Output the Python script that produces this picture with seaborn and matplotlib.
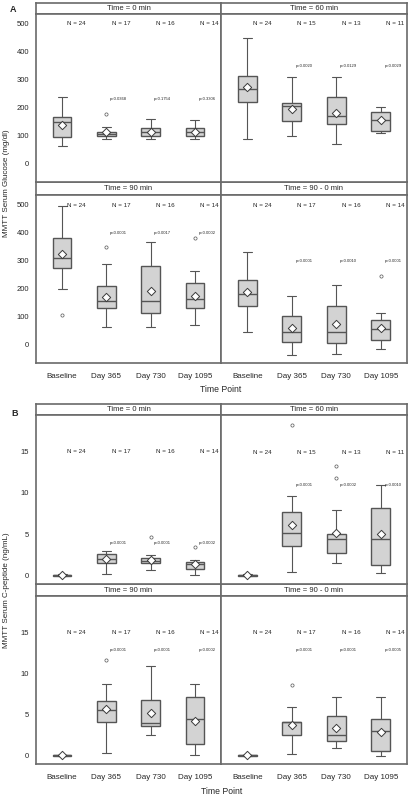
import numpy as np
import pandas as pd
import matplotlib
matplotlib.use("Agg")
import matplotlib.pyplot as plt
import seaborn as sns

sns.set_style("white")
plt.rcParams['font.family'] = ['Liberation Sans', 'DejaVu Sans']

W, H = 414, 798
categories = ['Baseline', 'Day 365', 'Day 730', 'Day 1095']

# box stats per facet: [whisker low, q1, median, q3, whisker high]
glu_0_box = [[62, 94, 149, 167, 240], [88, 101, 108, 115, 130], [90, 101, 115, 128, 160], [88, 101, 114, 128, 155]]
glu_0_mean = [137, 113, 115, 114]
glu_0_out = [[], [178], [], []]
glu_0_n = [24, 17, 16, 14]
glu_0_p = ['', 'p=0.0368', 'p=0.1754', 'p=0.3306']

glu_60_box = [[89, 219, 267, 315, 449], [101, 154, 205, 218, 311], [70, 142, 169, 240, 310], [110, 117, 157, 186, 202]]
glu_60_mean = [273, 195, 183, 157]
glu_60_out = [[], [], [], []]
glu_60_n = [24, 15, 13, 11]
glu_60_p = ['', 'p=0.0020', 'p=0.0129', 'p=0.0029']

glu_90_box = [[201, 273, 310, 381, 495], [65, 132, 156, 210, 290], [65, 112, 158, 282, 367], [70, 130, 164, 220, 263]]
glu_90_mean = [325, 170, 192, 175]
glu_90_out = [[108], [349], [], [381]]
glu_90_n = [24, 17, 16, 14]
glu_90_p = ['', 'p<0.0001', 'p=0.0017', 'p=0.0002']

glu_d_box = [[46, 139, 181, 232, 331], [-37, 10, 46, 104, 175], [-32, 5, 45, 139, 215], [-14, 17, 55, 88, 114]]
glu_d_mean = [188, 60, 75, 61]
glu_d_out = [[], [], [], [244]]
glu_d_n = [24, 17, 16, 14]
glu_d_p = ['', 'p=0.0001', 'p=0.0010', 'p=0.0001']

cp_0_box = [[0.0, 0.0, 0.05, 0.1, 0.15], [0.16, 1.57, 2.0, 2.57, 3.0], [0.68, 1.53, 1.8, 2.1, 2.53], [0.04, 0.8, 1.37, 1.69, 1.93]]
cp_0_mean = [0.05, 1.97, 1.9, 1.37]
cp_0_out = [[], [], [4.7], [3.5]]
cp_0_n = [24, 17, 16, 14]
cp_0_p = ['', 'p<0.0001', 'p<0.0001', 'p=0.0002']

cp_60_box = [[0.0, 0.0, 0.05, 0.1, 0.15], [0.4, 3.6, 5.2, 7.68, 9.6], [1.49, 2.7, 4.42, 5.07, 7.88], [0.32, 1.33, 4.38, 8.16, 10.9]]
cp_60_mean = [0.05, 6.07, 5.1, 5.0]
cp_60_out = [[], [18.2], [13.2, 11.8], []]
cp_60_n = [24, 15, 13, 11]
cp_60_p = ['', 'p<0.0001', 'p=0.0002', 'p=0.0010']

cp_90_box = [[0.0, 0.0, 0.05, 0.1, 0.15], [0.32, 4.12, 5.54, 6.63, 8.77], [2.55, 3.64, 3.96, 6.8, 10.9], [0.04, 1.37, 4.45, 7.16, 8.73]]
cp_90_mean = [0.05, 5.66, 5.18, 4.2]
cp_90_out = [[], [11.6], [], []]
cp_90_n = [24, 17, 16, 14]
cp_90_p = ['', 'p<0.0001', 'p<0.0001', 'p=0.0002']

cp_d_box = [[0.0, 0.0, 0.05, 0.1, 0.15], [0.2, 2.5, 4.04, 4.16, 5.94], [1.0, 1.78, 2.5, 4.77, 7.16], [0.0, 0.53, 3.03, 4.49, 7.16]]
cp_d_mean = [0.05, 3.76, 3.36, 2.9]
cp_d_out = [[], [8.6], [], []]
cp_d_n = [24, 17, 16, 14]
cp_d_p = ['', 'p<0.0001', 'p<0.0001', 'p=0.0005']

EDGE = '#555555'
FRAME = '#6a6a6a'

fig = plt.figure(figsize=(W / 100, H / 100), dpi=100)


def px_axes(x0, y0, x1, y1):
    return fig.add_axes([x0 / W, 1 - y1 / H, (x1 - x0) / W, (y1 - y0) / H])


def header(x0, y0, x1, y1, title):
    ax = px_axes(x0, y0, x1, y1)
    ax.set_xticks([])
    ax.set_yticks([])
    for s in ax.spines.values():
        s.set_color(FRAME)
        s.set_linewidth(1.2)
    ax.text(0.5, 0.5, title, ha='center', va='center', fontsize=5.5, transform=ax.transAxes)


def facet(pos, boxes, means, outs, ns, pvals, ylim, yticks, n_y, p_y, left, bottom):
    x0, y0, x1, y1 = pos
    ax = px_axes(x0, y0, x1, y1)
    stats = []
    for i, (lo, q1, med, q3, hi) in enumerate(boxes):
        stats.append(dict(whislo=lo, q1=q1, med=med, q3=q3, whishi=hi, fliers=outs[i]))
    ax.bxp(stats, positions=range(4), widths=0.42, capwidths=0.2, patch_artist=True,
           manage_ticks=False,
           boxprops=dict(facecolor='#d3d3d3', edgecolor=EDGE, linewidth=1.0),
           medianprops=dict(color=EDGE, linewidth=1.0),
           whiskerprops=dict(color=EDGE, linewidth=0.8),
           capprops=dict(color=EDGE, linewidth=0.8),
           flierprops=dict(marker='o', markersize=2.3, markerfacecolor='none',
                           markeredgecolor=EDGE, markeredgewidth=0.5))
    df = pd.DataFrame({'pos': np.arange(4), 'mean': means})
    sns.scatterplot(data=df, x='pos', y='mean', marker='D', s=18, color='white',
                    edgecolor='#3c3c3c', linewidth=0.7, ax=ax, zorder=5)
    for i in range(4):
        ax.text(i + 0.33, n_y, f'N = {ns[i]}', ha='center', va='center', fontsize=4.5)
        if pvals[i]:
            ax.text(i + 0.08, p_y, pvals[i], ha='left', va='center', fontsize=3.0)
    ax.set_xlim(-0.59, 3.59)
    ax.set_ylim(*ylim)
    ax.set_xlabel('')
    ax.set_ylabel('')
    for s in ax.spines.values():
        s.set_color(FRAME)
        s.set_linewidth(1.2)
    ax.set_xticks(range(4))
    ax.set_yticks(yticks)
    ax.tick_params(axis='both', length=3, width=0.7, color='#777777', labelsize=5.5, pad=2)
    ax.tick_params(axis='x', labelsize=5.8, pad=4)
    if left:
        ax.set_yticklabels([str(t) for t in yticks])
    else:
        ax.tick_params(axis='y', length=0, labelleft=False)
    if bottom:
        ax.set_xticklabels(categories)
    else:
        ax.tick_params(axis='x', length=0, labelbottom=False)
    return ax


glu_lim = (-65, 535)
glu_ticks = [0, 100, 200, 300, 400, 500]
cp_lim = (-1.0, 19.4)
cp_ticks = [0, 5, 10, 15]

# panel A
header(36, 3, 221, 14, 'Time = 0 min')
header(221, 3, 407, 14, 'Time = 60 min')
header(36, 182, 221, 195, 'Time = 90 min')
header(221, 182, 407, 195, 'Time = 90 - 0 min')
facet((36, 14, 221, 182), glu_0_box, glu_0_mean, glu_0_out, glu_0_n, glu_0_p,
      glu_lim, glu_ticks, 500, 232, True, False)
facet((221, 14, 407, 182), glu_60_box, glu_60_mean, glu_60_out, glu_60_n, glu_60_p,
      glu_lim, glu_ticks, 500, 351, False, False)
facet((36, 195, 221, 363), glu_90_box, glu_90_mean, glu_90_out, glu_90_n, glu_90_p,
      glu_lim, glu_ticks, 497, 400, True, True)
facet((221, 195, 407, 363), glu_d_box, glu_d_mean, glu_d_out, glu_d_n, glu_d_p,
      glu_lim, glu_ticks, 497, 299, False, True)

# panel B
header(36, 404, 221, 415, 'Time = 0 min')
header(221, 404, 407, 415, 'Time = 60 min')
header(36, 584, 221, 596, 'Time = 90 min')
header(221, 584, 407, 596, 'Time = 90 - 0 min')
facet((36, 415, 221, 584), cp_0_box, cp_0_mean, cp_0_out, cp_0_n, cp_0_p,
      cp_lim, cp_ticks, 15, 3.9, True, False)
facet((221, 415, 407, 584), cp_60_box, cp_60_mean, cp_60_out, cp_60_n, cp_60_p,
      cp_lim, cp_ticks, 14.9, 10.9, False, False)
facet((36, 596, 221, 764), cp_90_box, cp_90_mean, cp_90_out, cp_90_n, cp_90_p,
      cp_lim, cp_ticks, 15, 12.9, True, True)
facet((221, 596, 407, 764), cp_d_box, cp_d_mean, cp_d_out, cp_d_n, cp_d_p,
      cp_lim, cp_ticks, 15, 12.9, False, True)

# panel letters and shared labels
fig.text(13 / W, 1 - 10 / H, 'A', ha='center', va='center', fontsize=6.5, fontweight='bold')
fig.text(15 / W, 1 - 413 / H, 'B', ha='center', va='center', fontsize=6.5, fontweight='bold')
fig.text(7 / W, 1 - 183 / H, 'MMTT Serum Glucose (mg/dl)', rotation=90, ha='center', va='center', fontsize=5.8)
fig.text(7 / W, 1 - 590 / H, 'MMTT Serum C-peptide (ng/mL)', rotation=90, ha='center', va='center', fontsize=5.8)
fig.text(221 / W, 1 - 389 / H, 'Time Point', ha='center', va='center', fontsize=6.2)
fig.text(222 / W, 1 - 792 / H, 'Time Point', ha='center', va='center', fontsize=6.2)

fig.savefig('out.png', dpi=100)
